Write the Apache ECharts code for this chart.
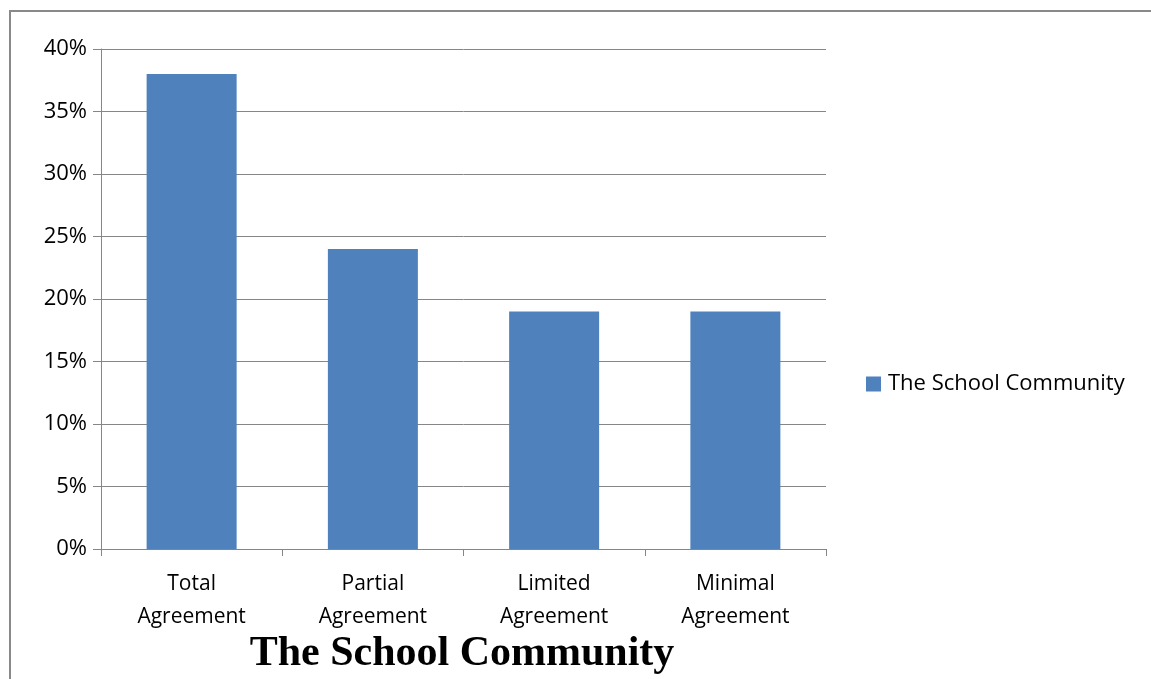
<!DOCTYPE html>
<html><head><meta charset="utf-8">
<script src="https://cdn.jsdelivr.net/npm/echarts@6/dist/echarts.min.js"></script>
<style>
html,body{margin:0;padding:0;background:#fff;}
#frame{position:absolute;left:9px;top:10px;width:1200px;height:720px;border:2px solid #898989;box-sizing:border-box;}
#c{position:absolute;left:0;top:0;width:1151px;height:679px;}
</style></head>
<body>
<div id="frame"></div>
<div id="c"></div>
<script>
const categories = ["Total\nAgreement", "Partial\nAgreement", "Limited\nAgreement", "Minimal\nAgreement"];
const seriesName = "The School Community";
const values = [0.38, 0.24, 0.19, 0.19];
const titleText = "The School Community";

const chart = echarts.init(document.getElementById('c'), null, {renderer: 'canvas'});
const font = "'Open Sans', 'Noto Sans', sans-serif";
chart.setOption({
  animation: false,
  backgroundColor: 'transparent',
  title: {
    text: titleText, left: 462, top: 633, textAlign: 'center', padding: 0,
    textStyle: {fontFamily: "'Liberation Serif', 'Times New Roman', serif", fontWeight: 'bold', fontSize: 42, color: '#000'}
  },
  legend: {
    data: [seriesName], left: 866, top: 373, orient: 'vertical', padding: 0,
    itemWidth: 15, itemHeight: 15, itemGap: 8, icon: 'rect',
    textStyle: {fontFamily: font, fontSize: 22, color: '#000', padding: [0,0,0,2]}
  },
  grid: {left: 101, top: 49, right: 325, bottom: 130, containLabel: false},
  xAxis: {
    type: 'category', data: categories,
    axisLine: {lineStyle: {color: '#868686', width: 1}},
    axisTick: {show: true, length: 7, lineStyle: {color: '#868686'}},
    axisLabel: {fontFamily: font, fontSize: 21, color: '#000', margin: 19, lineHeight: 33},
    splitLine: {show: false}
  },
  yAxis: {
    type: 'value', min: 0, max: 0.4, interval: 0.05,
    axisLine: {show: true, lineStyle: {color: '#868686', width: 1}},
    axisTick: {show: true, inside: false, length: 8, lineStyle: {color: '#868686'}},
    axisLabel: {fontFamily: font, fontSize: 22, color: '#000', margin: 14,
      formatter: v => Math.round(v * 100) + '%'},
    splitLine: {show: true, lineStyle: {color: '#868686', width: 1}}
  },
  series: [{
    name: seriesName, type: 'bar', data: values, barWidth: 90,
    itemStyle: {color: '#4F81BD'}
  }]
});
</script>
</body></html>
